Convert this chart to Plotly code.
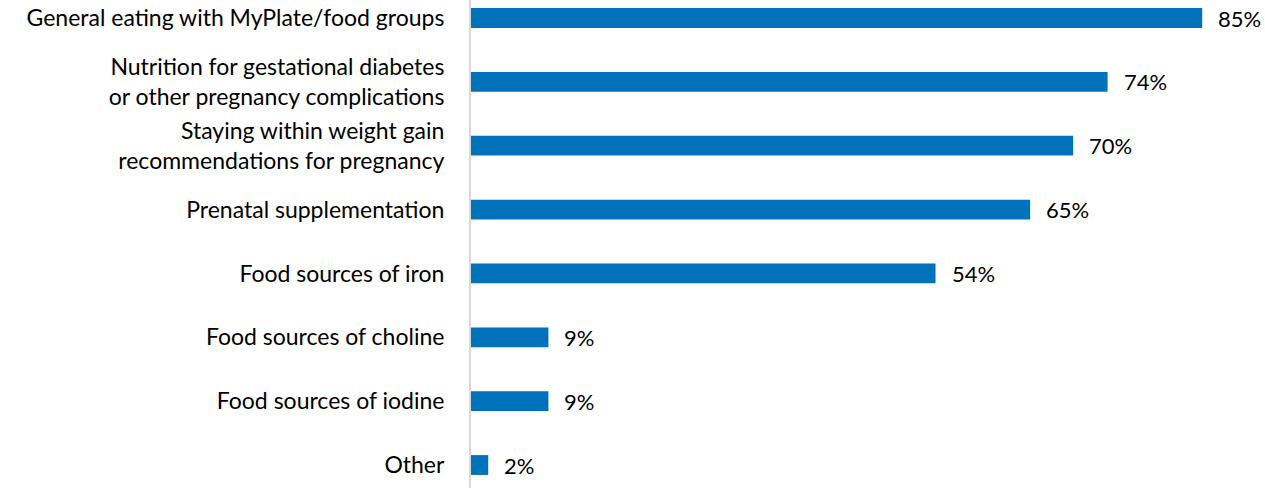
import plotly.graph_objects as go

categories = [
    "General eating with MyPlate/food groups",
    "Nutrition for gestational diabetes<br>or other pregnancy complications",
    "Staying within weight gain<br>recommendations for pregnancy",
    "Prenatal supplementation",
    "Food sources of iron",
    "Food sources of choline",
    "Food sources of iodine",
    "Other",
]
values = [85, 74, 70, 65, 54, 9, 9, 2]
value_labels = ["85%", "74%", "70%", "65%", "54%", "9%", "9%", "2%"]

FONT = "Gill Sans MT, Gill Sans, Lato, sans-serif"
BAR_COLOR = "#0072BC"

fig = go.Figure(
    go.Bar(
        x=values,
        y=categories,
        orientation="h",
        marker=dict(color=BAR_COLOR, line=dict(width=0)),
        width=0.31,
        hoverinfo="skip",
    )
)

# value labels just past the end of each bar
for cat, v, lab in zip(categories, values, value_labels):
    fig.add_annotation(
        x=v, y=cat, text=lab, showarrow=False,
        xanchor="left", yanchor="middle", xshift=14,
        font=dict(family=FONT, size=22, color="#000000"),
    )

fig.update_layout(
    width=1265, height=488,
    margin=dict(l=471, r=0, t=0, b=0),
    paper_bgcolor="white", plot_bgcolor="white",
    showlegend=False,
    font=dict(family=FONT, size=22, color="#000000"),
    xaxis=dict(
        range=[0, 92.3], showgrid=False, zeroline=False,
        showticklabels=False, showline=False, fixedrange=True,
    ),
    yaxis=dict(
        type="category",
        range=[7.36, -0.282],
        showgrid=False, zeroline=False,
        showline=True, linecolor="#D9D9D9", linewidth=2,
        ticks="", ticklabelstandoff=20,
        tickfont=dict(family=FONT, size=23, color="#000000"),
        fixedrange=True,
    ),
)

fig.write_html("out.html")
